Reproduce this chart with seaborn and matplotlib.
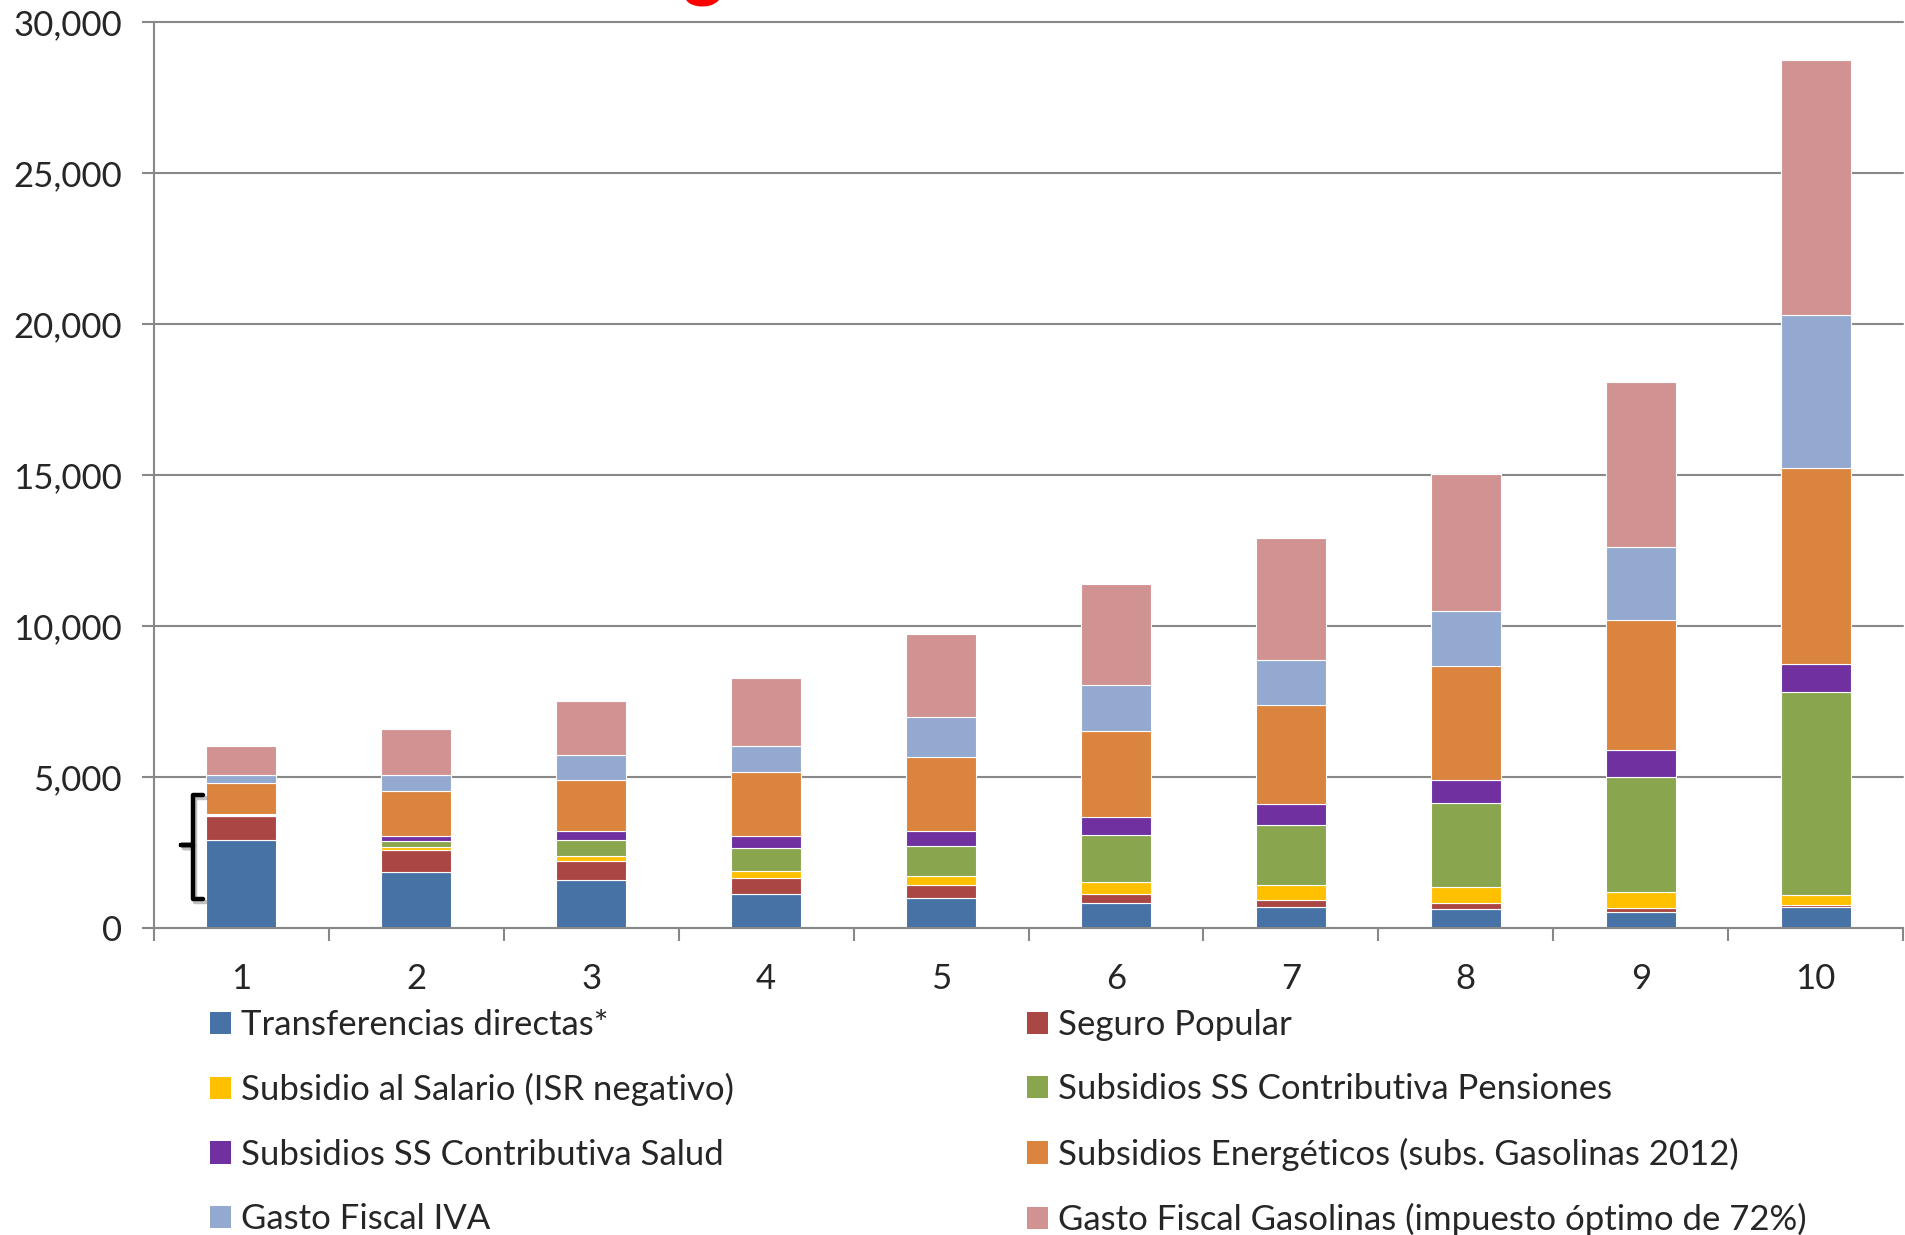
import numpy as np
import pandas as pd
import seaborn as sns
import matplotlib.pyplot as plt
import matplotlib.patheffects as pe
from matplotlib.patches import Patch

# --- Data ---
deciles = list(range(1, 11))

transferencias = [2926, 1866, 1601, 1137, 1005, 817, 684, 642, 542, 702]
seguro_popular = [784, 707, 607, 519, 408, 298, 243, 181, 120, 45]
subsidio_salario = [10, 99, 166, 221, 309, 419, 486, 542, 522, 340]
ss_pensiones = [15, 198, 552, 784, 983, 1546, 1998, 2789, 3813, 6743]
ss_salud = [40, 166, 287, 386, 508, 607, 696, 763, 883, 923]
energeticos = [1020, 1500, 1689, 2109, 2439, 2826, 3268, 3753, 4335, 6482]
gasto_iva = [275, 530, 828, 883, 1325, 1524, 1501, 1827, 2388, 5058]
gasto_gasolinas = [960, 1513, 1777, 2241, 2771, 3356, 4041, 4555, 5480, 8450]

series_names = [
    "Transferencias directas*",
    "Seguro Popular",
    "Subsidio al Salario (ISR negativo)",
    "Subsidios SS Contributiva Pensiones",
    "Subsidios SS Contributiva Salud",
    "Subsidios Energéticos (subs. Gasolinas 2012)",
    "Gasto Fiscal IVA",
    "Gasto Fiscal Gasolinas (impuesto óptimo de 72%)",
]
series_values = [transferencias, seguro_popular, subsidio_salario, ss_pensiones,
                 ss_salud, energeticos, gasto_iva, gasto_gasolinas]
series_colors = ["#4672A6", "#AA4643", "#FFC000", "#89A54E",
                 "#7030A0", "#DB843D", "#93A9CF", "#D19392"]

y_ticks = list(range(0, 30001, 5000))

# long table for seaborn
rows = []
for name, vals in zip(series_names, series_values):
    for d, v in zip(deciles, vals):
        rows.append({"decil": d, "serie": name, "valor": v})
df = pd.DataFrame(rows)

sns.set_theme(style="white")
plt.rcParams["font.family"] = ["Lato", "DejaVu Sans"]

fig = plt.figure(figsize=(19.05, 12.35), dpi=100)
ax = fig.add_axes([0.0808, 0.2486, 0.9182, 0.7334])

# seaborn stacks the first hue level on top, so reverse the order
sns.histplot(data=df, x="decil", weights="valor", hue="serie",
             hue_order=series_names[::-1],
             palette=dict(zip(series_names, series_colors)),
             multiple="stack", discrete=True, shrink=0.4,
             alpha=1, edgecolor="white", linewidth=0.8,
             legend=False, ax=ax)

ax.set_xlim(0.5, 10.5)
ax.set_ylim(0, 30000)
ax.set_xlabel("")
ax.set_ylabel("")

grey = "#888888"
ax.set_yticks(y_ticks)
ax.set_yticklabels([f"{t:,}" for t in y_ticks])
ax.set_xticks(deciles)
ax.set_xticks(np.arange(0.5, 11, 1), minor=True)
ax.tick_params(axis="y", length=9, width=1.5, color=grey, pad=14, labelsize=25,
               left=True)
ax.tick_params(axis="x", which="major", length=0, pad=25, labelsize=25)
ax.tick_params(axis="x", which="minor", length=9, width=1.5, color=grey,
               bottom=True)

ax.yaxis.grid(True, color=grey, linewidth=1.5)
ax.set_axisbelow(True)
for gl in ax.get_ygridlines():
    gl.set_clip_on(False)
for s in ["top", "right"]:
    ax.spines[s].set_visible(False)
for s in ["left", "bottom"]:
    ax.spines[s].set_color(grey)
    ax.spines[s].set_linewidth(1.5)

# bracket next to the first decile
ax.plot([0.782, 0.721, 0.721, 0.654, 0.721, 0.721, 0.782],
        [4402, 4402, 2747, 2747, 2747, 960, 960],
        color="black", lw=3.2, solid_joinstyle="round", solid_capstyle="round",
        clip_on=False, zorder=5,
        path_effects=[pe.SimpleLineShadow(offset=(2, -2), shadow_color="grey", alpha=0.5),
                      pe.Normal()])

# cropped red title at the very top
fig.text(0.369, 1.008, "g", color="red", fontsize=56, fontweight="bold",
         ha="center", va="baseline")

# legend in two columns
handles = [Patch(facecolor=c, edgecolor="none") for c in series_colors]
leg_kw = dict(loc="upper left", frameon=False, fontsize=25, borderpad=0,
              borderaxespad=0, handlelength=0.6, handleheight=0.6,
              handletextpad=0.3, labelspacing=0.93)
leg1 = fig.legend(handles[0::2], series_names[0::2],
                  bbox_to_anchor=(210 / 1905, 1 - 1009 / 1235), **leg_kw)
leg2 = fig.legend(handles[1::2], series_names[1::2],
                  bbox_to_anchor=(1027 / 1905, 1 - 1009 / 1235), **leg_kw)

fig.savefig("out.png", dpi=100)
